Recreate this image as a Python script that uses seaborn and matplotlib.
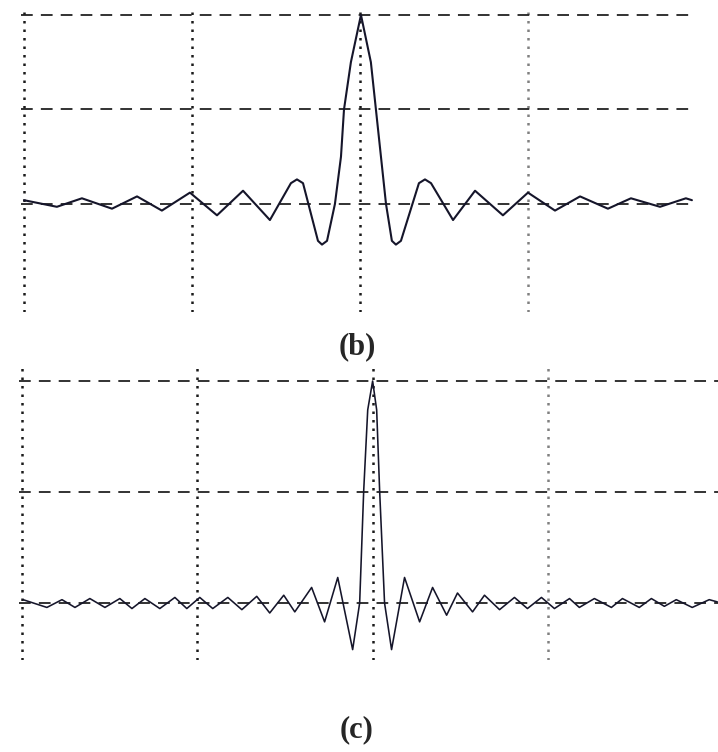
import matplotlib
matplotlib.use('Agg')
import matplotlib.pyplot as plt
import seaborn as sns
import pandas as pd

# Trace (b): x and y in screen divisions
b_x = [0.000, 0.196, 0.345, 0.524, 0.673, 0.821, 0.988, 1.149, 1.304, 1.464,
       1.589, 1.625, 1.661, 1.750, 1.774, 1.804, 1.851, 1.887, 1.905, 1.946,
       2.006, 2.065, 2.095, 2.125, 2.155, 2.190, 2.214, 2.244, 2.351, 2.387,
       2.423, 2.554, 2.685, 2.851, 3.000, 3.161, 3.310, 3.476, 3.613, 3.786,
       3.940, 3.976]
b_y = [0.04, -0.03, 0.06, -0.05, 0.08, -0.07, 0.12, -0.12, 0.14, -0.17,
       0.22, 0.26, 0.22, -0.39, -0.43, -0.39, 0.00, 0.50, 1.00, 1.50,
       2.00, 1.50, 1.00, 0.50, 0.00, -0.39, -0.43, -0.39, 0.22, 0.26,
       0.22, -0.17, 0.14, -0.12, 0.12, -0.07, 0.08, -0.05, 0.06, -0.03,
       0.06, 0.04]

# Trace (c)
c_x = [0.006, 0.142, 0.228, 0.302, 0.387, 0.473, 0.558, 0.627, 0.701, 0.786,
       0.872, 0.940, 1.014, 1.088, 1.174, 1.254, 1.339, 1.413, 1.493, 1.556,
       1.652, 1.726, 1.801, 1.886, 1.926, 1.949, 1.972, 2.000, 2.023, 2.040,
       2.068, 2.108, 2.182, 2.268, 2.342, 2.422, 2.484, 2.570, 2.638, 2.724,
       2.809, 2.883, 2.963, 3.037, 3.123, 3.179, 3.265, 3.362, 3.425, 3.521,
       3.590, 3.664, 3.732, 3.823, 3.920, 3.966]
c_y = [0.03, -0.04, 0.03, -0.04, 0.04, -0.04, 0.04, -0.05, 0.04, -0.05,
       0.05, -0.05, 0.05, -0.05, 0.05, -0.06, 0.06, -0.09, 0.07, -0.08,
       0.14, -0.17, 0.23, -0.42, 0.00, 1.01, 1.74, 2.00, 1.74, 1.01,
       0.00, -0.42, 0.23, -0.17, 0.14, -0.11, 0.09, -0.08, 0.07, -0.06,
       0.05, -0.05, 0.05, -0.05, 0.04, -0.04, 0.04, -0.04, 0.04, -0.04,
       0.04, -0.03, 0.03, -0.04, 0.03, 0.01]

grid_x = [0, 1, 2, 3]
grid_y = [0, 1, 2]
labels = ['(b)', '(c)']

sns.set_style('white')

fig = plt.figure(figsize=(7.18, 7.52), dpi=100)
W, H = 718, 752


def panel(rect_px, xlim, ylim, xs, ys, lw):
    l, t, r, b = rect_px
    ax = fig.add_axes([l / W, 1 - b / H, (r - l) / W, (b - t) / H])
    df = pd.DataFrame({'x': xs, 'y': ys})
    sns.lineplot(data=df, x='x', y='y', ax=ax, sort=False, estimator=None,
                 color='#15152a', linewidth=lw, zorder=3,
                 solid_joinstyle='round', solid_capstyle='round')
    ax.set_xlim(*xlim)
    ax.set_ylim(*ylim)
    ax.set_xticks(grid_x)
    ax.set_yticks(grid_y)
    ax.tick_params(length=0, labelbottom=False, labelleft=False)
    ax.set_xlabel('')
    ax.set_ylabel('')
    ax.xaxis.grid(True, color='#1a1a1a', linestyle=(0, (1, 2.4)), linewidth=1.8)
    ax.yaxis.grid(True, color='#222222', linestyle=(0, (6.5, 4.5)), linewidth=1.3)
    ax.get_xgridlines()[3].set_color('#808080')
    for s in ax.spines.values():
        s.set_visible(False)
    return ax


panel((20.6, 7.4, 692.6, 311.7), (-0.02, 3.98), (-1.14, 2.08), b_x, b_y, 1.5)
panel((18.5, 367.7, 718, 659.6), (-0.02, 3.97), (-0.51, 2.12), c_x, c_y, 1.15)

fig.text(357.5 / W, 1 - 347 / H, labels[0], ha='center', va='center',
         fontsize=22, fontweight='bold', family=['Liberation Serif', 'DejaVu Serif'])
fig.text(356.5 / W, 1 - 730 / H, labels[1], ha='center', va='center',
         fontsize=22, fontweight='bold', family=['Liberation Serif', 'DejaVu Serif'])

fig.savefig('out.png', dpi=100)
